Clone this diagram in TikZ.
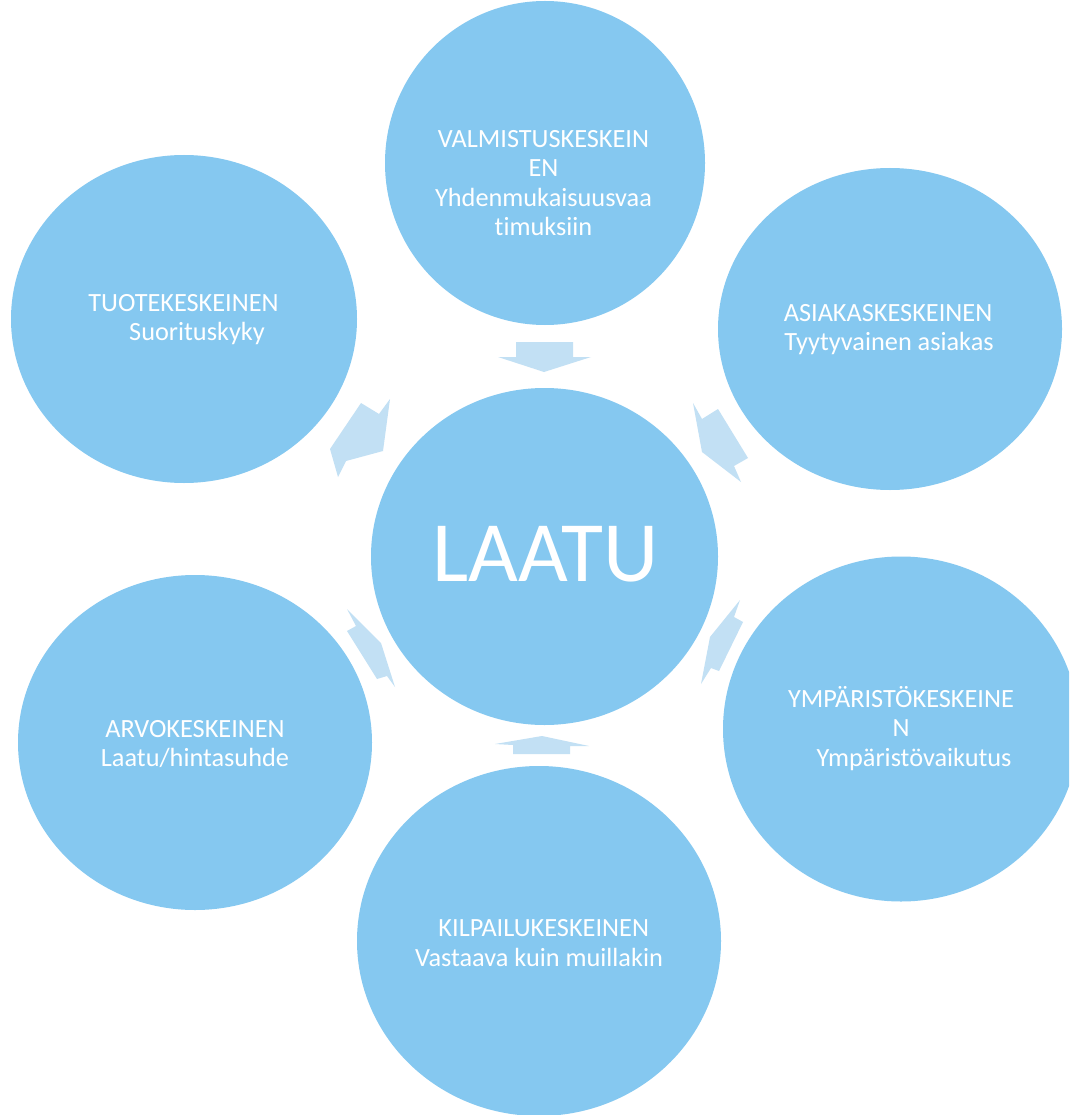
\documentclass[tikz,border=0pt]{standalone}
\usepackage{fontspec}
\setmainfont{Carlito}[Ligatures={NoCommon}]
\usetikzlibrary{shapes.geometric}
\definecolor{circc}{RGB}{133,200,240}
\definecolor{arrc}{RGB}{194,224,244}
\tikzset{
  bubble/.style={ellipse, fill=circc, draw=none, inner sep=0pt},
  lbl/.style={anchor=base, text=white, inner sep=0pt, font=\fontsize{26.3}{29.5}\selectfont},
  big/.style={anchor=base, text=white, inner sep=0pt, font=\fontsize{86}{100}\selectfont},
  arrowshape/.style={fill=arrc, draw=none}
}
\begin{document}
\begin{tikzpicture}[x=1pt,y=-1pt]
\useasboundingbox (0,0) rectangle (1069,1115);
\clip (0,0) rectangle (1069,1115);
\fill[white] (0,0) rectangle (1069,1115);
% circles
\node[bubble, minimum width=320pt, minimum height=324pt] (valm) at (545,163) {};
\node[bubble, minimum width=346pt, minimum height=328pt] (tuote) at (184,319) {};
\node[bubble, minimum width=344pt, minimum height=322pt] (asiak) at (890,329) {};
\node[bubble, minimum width=356pt, minimum height=345pt] (ymp) at (901,729) {};
\node[bubble, minimum width=354pt, minimum height=335pt] (arvo) at (195,742.5) {};
\node[bubble, minimum width=364pt, minimum height=350pt] (kilp) at (539,941) {};
\node[bubble, minimum width=347pt, minimum height=337pt] (laatu) at (544.5,556.5) {};
% arrows
\fill[arrowshape] (516,342) -- (573,342) -- (573,357) -- (591,357) -- (544,372) -- (498,357) -- (516,357) -- cycle;
\fill[arrowshape] (361,403) -- (379,414) -- (390,399) -- (383,451) -- (346,461) -- (338,477) -- (330,449) -- cycle;
\fill[arrowshape] (693,403) -- (702,419) -- (718,409) -- (748,458) -- (734,466) -- (741,482) -- (702,452) -- cycle;
\fill[arrowshape] (347,609) -- (381,643) -- (395,687) -- (387,676) -- (377,679) -- (347,631) -- (356,626) -- cycle;
\fill[arrowshape] (740,600) -- (734,617) -- (743,622) -- (719,671) -- (711,668) -- (701,684) -- (710,637) -- cycle;
\fill[arrowshape] (542,736) -- (589,746) -- (570,746) -- (570,754) -- (513,754) -- (513,745) -- (495,744) -- cycle;
% texts
\node[big] (tlaatu) at (545.5,581) {LAATU};
\node[lbl] (tv1) at (543.5,147.3) {VALMISTUSKESKEIN};
\node[lbl] (tv2) at (543.5,176.7) {EN};
\node[lbl] (tv3) at (543.5,206.7) {Yhdenmukaisuusvaa};
\node[lbl] (tv4) at (543.5,236) {timuksiin};
\node[lbl] (tt1) at (183.5,311.7) {TUOTEKESKEINEN};
\node[lbl] (tt2) at (197,340) {Suorituskyky};
\node[lbl] (ta1) at (888,321.7) {ASIAKASKESKEINEN};
\node[lbl] (ta2) at (889,350) {Tyytyvainen asiakas};
\node[lbl] (ty1) at (901,707.7) {YMPÄRISTÖKESKEINE};
\node[lbl] (ty2) at (901,736.7) {N};
\node[lbl] (ty3) at (914,766) {Ympäristövaikutus};
\node[lbl] (tr1) at (195,737) {ARVOKESKEINEN};
\node[lbl] (tr2) at (195,766) {Laatu/hintasuhde};
\node[lbl] (tk1) at (543.7,936.7) {KILPAILUKESKEINEN};
\node[lbl] (tk2) at (539,966) {Vastaava kuin muillakin};
\end{tikzpicture}
\end{document}
